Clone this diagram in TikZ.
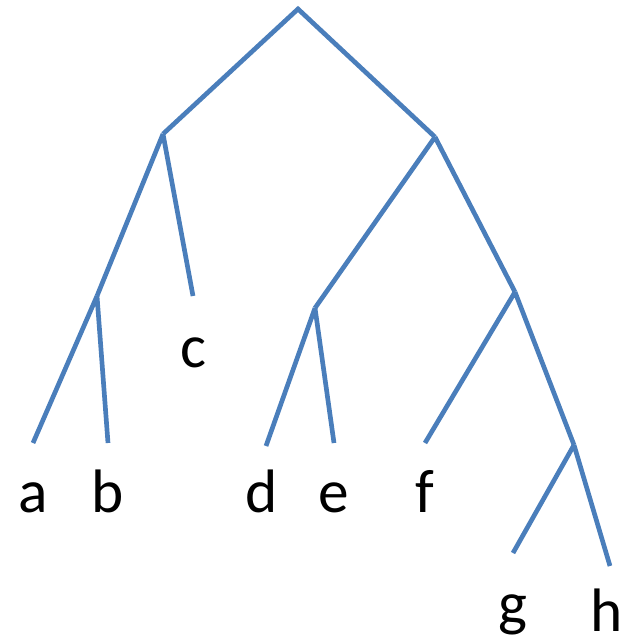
\documentclass[tikz,border=0pt]{standalone}
\usepackage{fontspec}
\setmainfont{Carlito}
\usepackage{tikz}
\definecolor{branch}{HTML}{4A7EBB}
\tikzset{
  edge/.style={draw=branch,line width=3.5pt,line cap=butt,line join=miter},
  leaf/.style={anchor=base,inner sep=0pt,font=\fontsize{46}{50}\selectfont}
}

\begin{document}
\begin{tikzpicture}[x=0.75pt,y=-0.75pt]
  \useasboundingbox (0,0) rectangle (635,639);
  % inner points of the tree
  \coordinate (root) at (298,9);\coordinate (nl) at (163,134);\coordinate (nr) at (435,137);
  \coordinate (nab) at (97,296);\coordinate (nde) at (315,308);\coordinate (nfgh) at (515,292);\coordinate (ngh) at (574,445);
  % free ends of the branches
  \coordinate (ea) at (33,443);\coordinate (eb) at (108,443);\coordinate (ec) at (193,296);\coordinate (ed) at (266,446);
  \coordinate (ee) at (334,443);\coordinate (ef) at (425,443);\coordinate (eg) at (513,553);\coordinate (eh) at (610,566);
  \draw[edge] (nl)--(root)--(nr);
  \draw[edge] (nl)--(nab) (nl)--(ec);
  \draw[edge] (nr)--(nde) (nr)--(nfgh);
  \draw[edge] (nab)--(ea) (nab)--(eb);
  \draw[edge] (nde)--(ed) (nde)--(ee);
  \draw[edge] (nfgh)--(ef) (nfgh)--(ngh);
  \draw[edge] (ngh)--(eg) (ngh)--(eh);
  \foreach \n/\x/\y in {a/33/512,b/108/512,c/193/367,d/262/512,e/334/512,f/425/512,g/513/624,h/607/631}{\node[leaf] (\n) at (\x,\y) {\n};}
\end{tikzpicture}
\end{document}
